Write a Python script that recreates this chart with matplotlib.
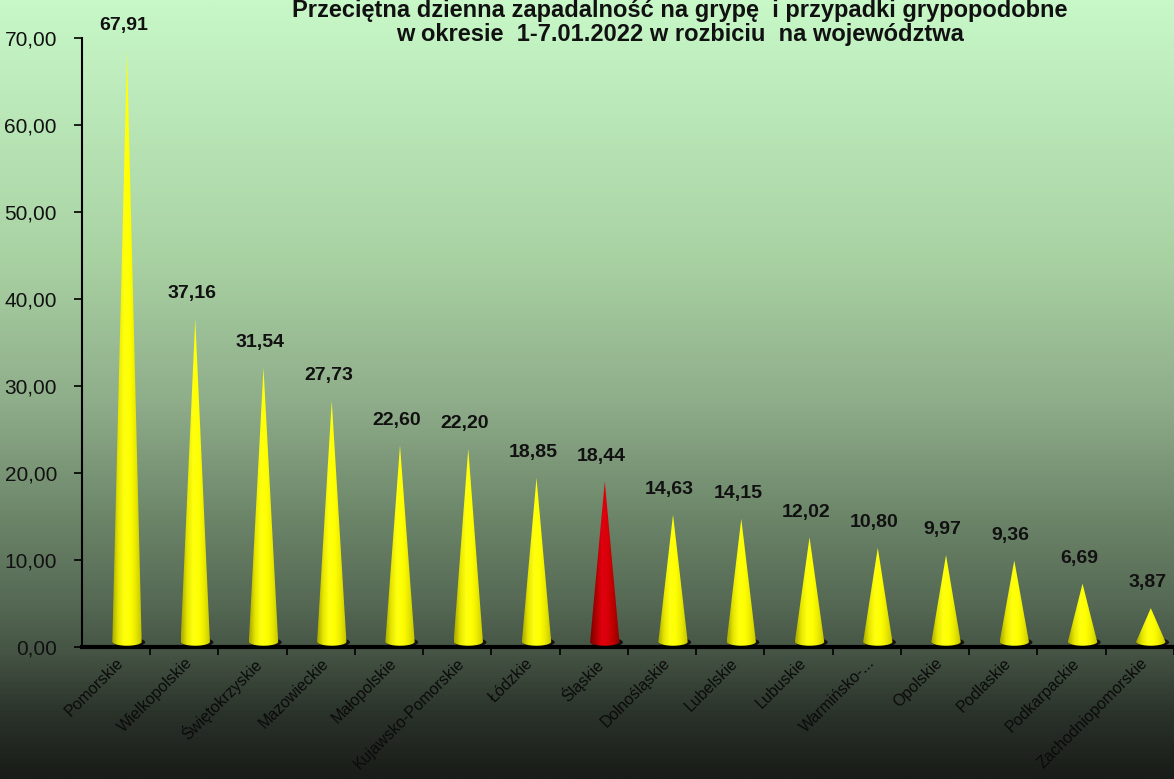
import numpy as np
import matplotlib.pyplot as plt
from matplotlib.patches import Polygon, Ellipse
from matplotlib.colors import LinearSegmentedColormap

plt.rcParams['font.family'] = ['Liberation Sans', 'DejaVu Sans']

regions = ['Pomorskie', 'Wielkopolskie', 'Świętokrzyskie', 'Mazowieckie', 'Małopolskie',
           'Kujawsko-Pomorskie', 'Łódzkie', 'Śląskie', 'Dolnośląskie', 'Lubelskie',
           'Lubuskie', 'Warmińsko-...', 'Opolskie', 'Podlaskie', 'Podkarpackie',
           'Zachodniopomorskie']
values = [67.91, 37.16, 31.54, 27.73, 22.60, 22.20, 18.85, 18.44, 14.63, 14.15,
          12.02, 10.80, 9.97, 9.36, 6.69, 3.87]
highlight = 'Śląskie'
y_ticks = [0, 10, 20, 30, 40, 50, 60, 70]

title = ('Przeciętna dzienna zapadalność na grypę  i przypadki grypopodobne\n'
         'w okresie  1-7.01.2022 w rozbiciu  na województwa')

fig = plt.figure(figsize=(11.74, 7.79), dpi=100)

# background gradient (light green at top -> almost black at bottom)
bg = fig.add_axes([0, 0, 1, 1], zorder=-10)
bg_cmap = LinearSegmentedColormap.from_list('bg', [
    (0.0, '#c8f8c8'), (0.33, '#a9d2a3'), (0.52, '#8eac89'), (0.67, '#6b8468'),
    (0.78, '#546853'), (0.84, '#455444'), (0.92, '#2a322a'), (1.0, '#191c18')])
bg.imshow(np.linspace(0, 1, 400).reshape(-1, 1), cmap=bg_cmap, aspect='auto',
          extent=[0, 1, 0, 1], origin='upper')
bg.set_axis_off()

ax = fig.add_axes([0.0698, 0.1694, 0.9302, 0.7816])
ax.patch.set_alpha(0)

yellow = LinearSegmentedColormap.from_list('yel', ['#a8a800', '#e6e600', '#ffff10',
                                                   '#ffff00', '#e8e800', '#c4c400'])
red = LinearSegmentedColormap.from_list('red', ['#7a0000', '#b00000', '#e00010',
                                                '#d80008', '#b80000', '#900000'])

shift = 0.16      # 3D depth offset of the cones
hw = 0.215        # half width of cone base
base = 0.6        # cone base sits slightly above the floor
eh = 0.45         # half height of the base ellipse (data units)
grad = np.linspace(0, 1, 64).reshape(1, -1)

for i, (name, v) in enumerate(zip(regions, values)):
    xc = i + shift
    top = v + base
    # shadow ellipse under the cone
    ax.add_patch(Ellipse((xc + 0.03, base - 0.05), 2 * hw * 1.1, 2 * eh * 1.2,
                         facecolor='#111111', edgecolor='none', zorder=2))
    t = np.linspace(np.pi, 2 * np.pi, 30)
    arc = np.column_stack([xc + hw * np.cos(t), base + eh * np.sin(t)])
    verts = np.vstack([[[xc, top]], arc, [[xc, top]]])
    poly = Polygon(verts, closed=True, facecolor='none', edgecolor='none', zorder=3)
    ax.add_patch(poly)
    im = ax.imshow(grad, cmap=red if name == highlight else yellow, aspect='auto',
                   extent=[xc - hw, xc + hw, base - eh, top], zorder=3)
    im.set_clip_path(poly)
    ax.annotate(f'{v:.2f}'.replace('.', ','), (xc - 0.05, top), xytext=(0, 12),
                textcoords='offset points', ha='center', va='bottom',
                fontsize=14, fontweight='bold', color='#111111', annotation_clip=False)

ax.set_xlim(-0.5, 15.42)
ax.set_ylim(0, 70)
ax.set_yticks(y_ticks)
ax.set_yticklabels([f'{t:.2f}'.replace('.', ',') for t in y_ticks], fontsize=15,
                   color='#111111')
ax.set_xticks(range(len(regions)))
ax.set_xticklabels(regions, rotation=45, ha='right', rotation_mode='anchor',
                   fontsize=11.5, color='#0a0a0a')
ax.tick_params(axis='x', length=0, pad=6)
ax.set_xticks(np.arange(0.5, len(regions), 1), minor=True)
ax.tick_params(axis='x', which='minor', length=6, width=1.2, color='black')
ax.tick_params(axis='y', length=6, width=1.2, color='black', pad=12)

for s in ['top', 'right']:
    ax.spines[s].set_visible(False)
ax.spines['left'].set_linewidth(1.5)
ax.spines['bottom'].set_linewidth(3)

fig.text(0.579, 0.971, title, ha='center', va='center', fontsize=17,
         fontweight='bold', color='#111111', linespacing=1.05)

fig.savefig('out.png', dpi=100)
